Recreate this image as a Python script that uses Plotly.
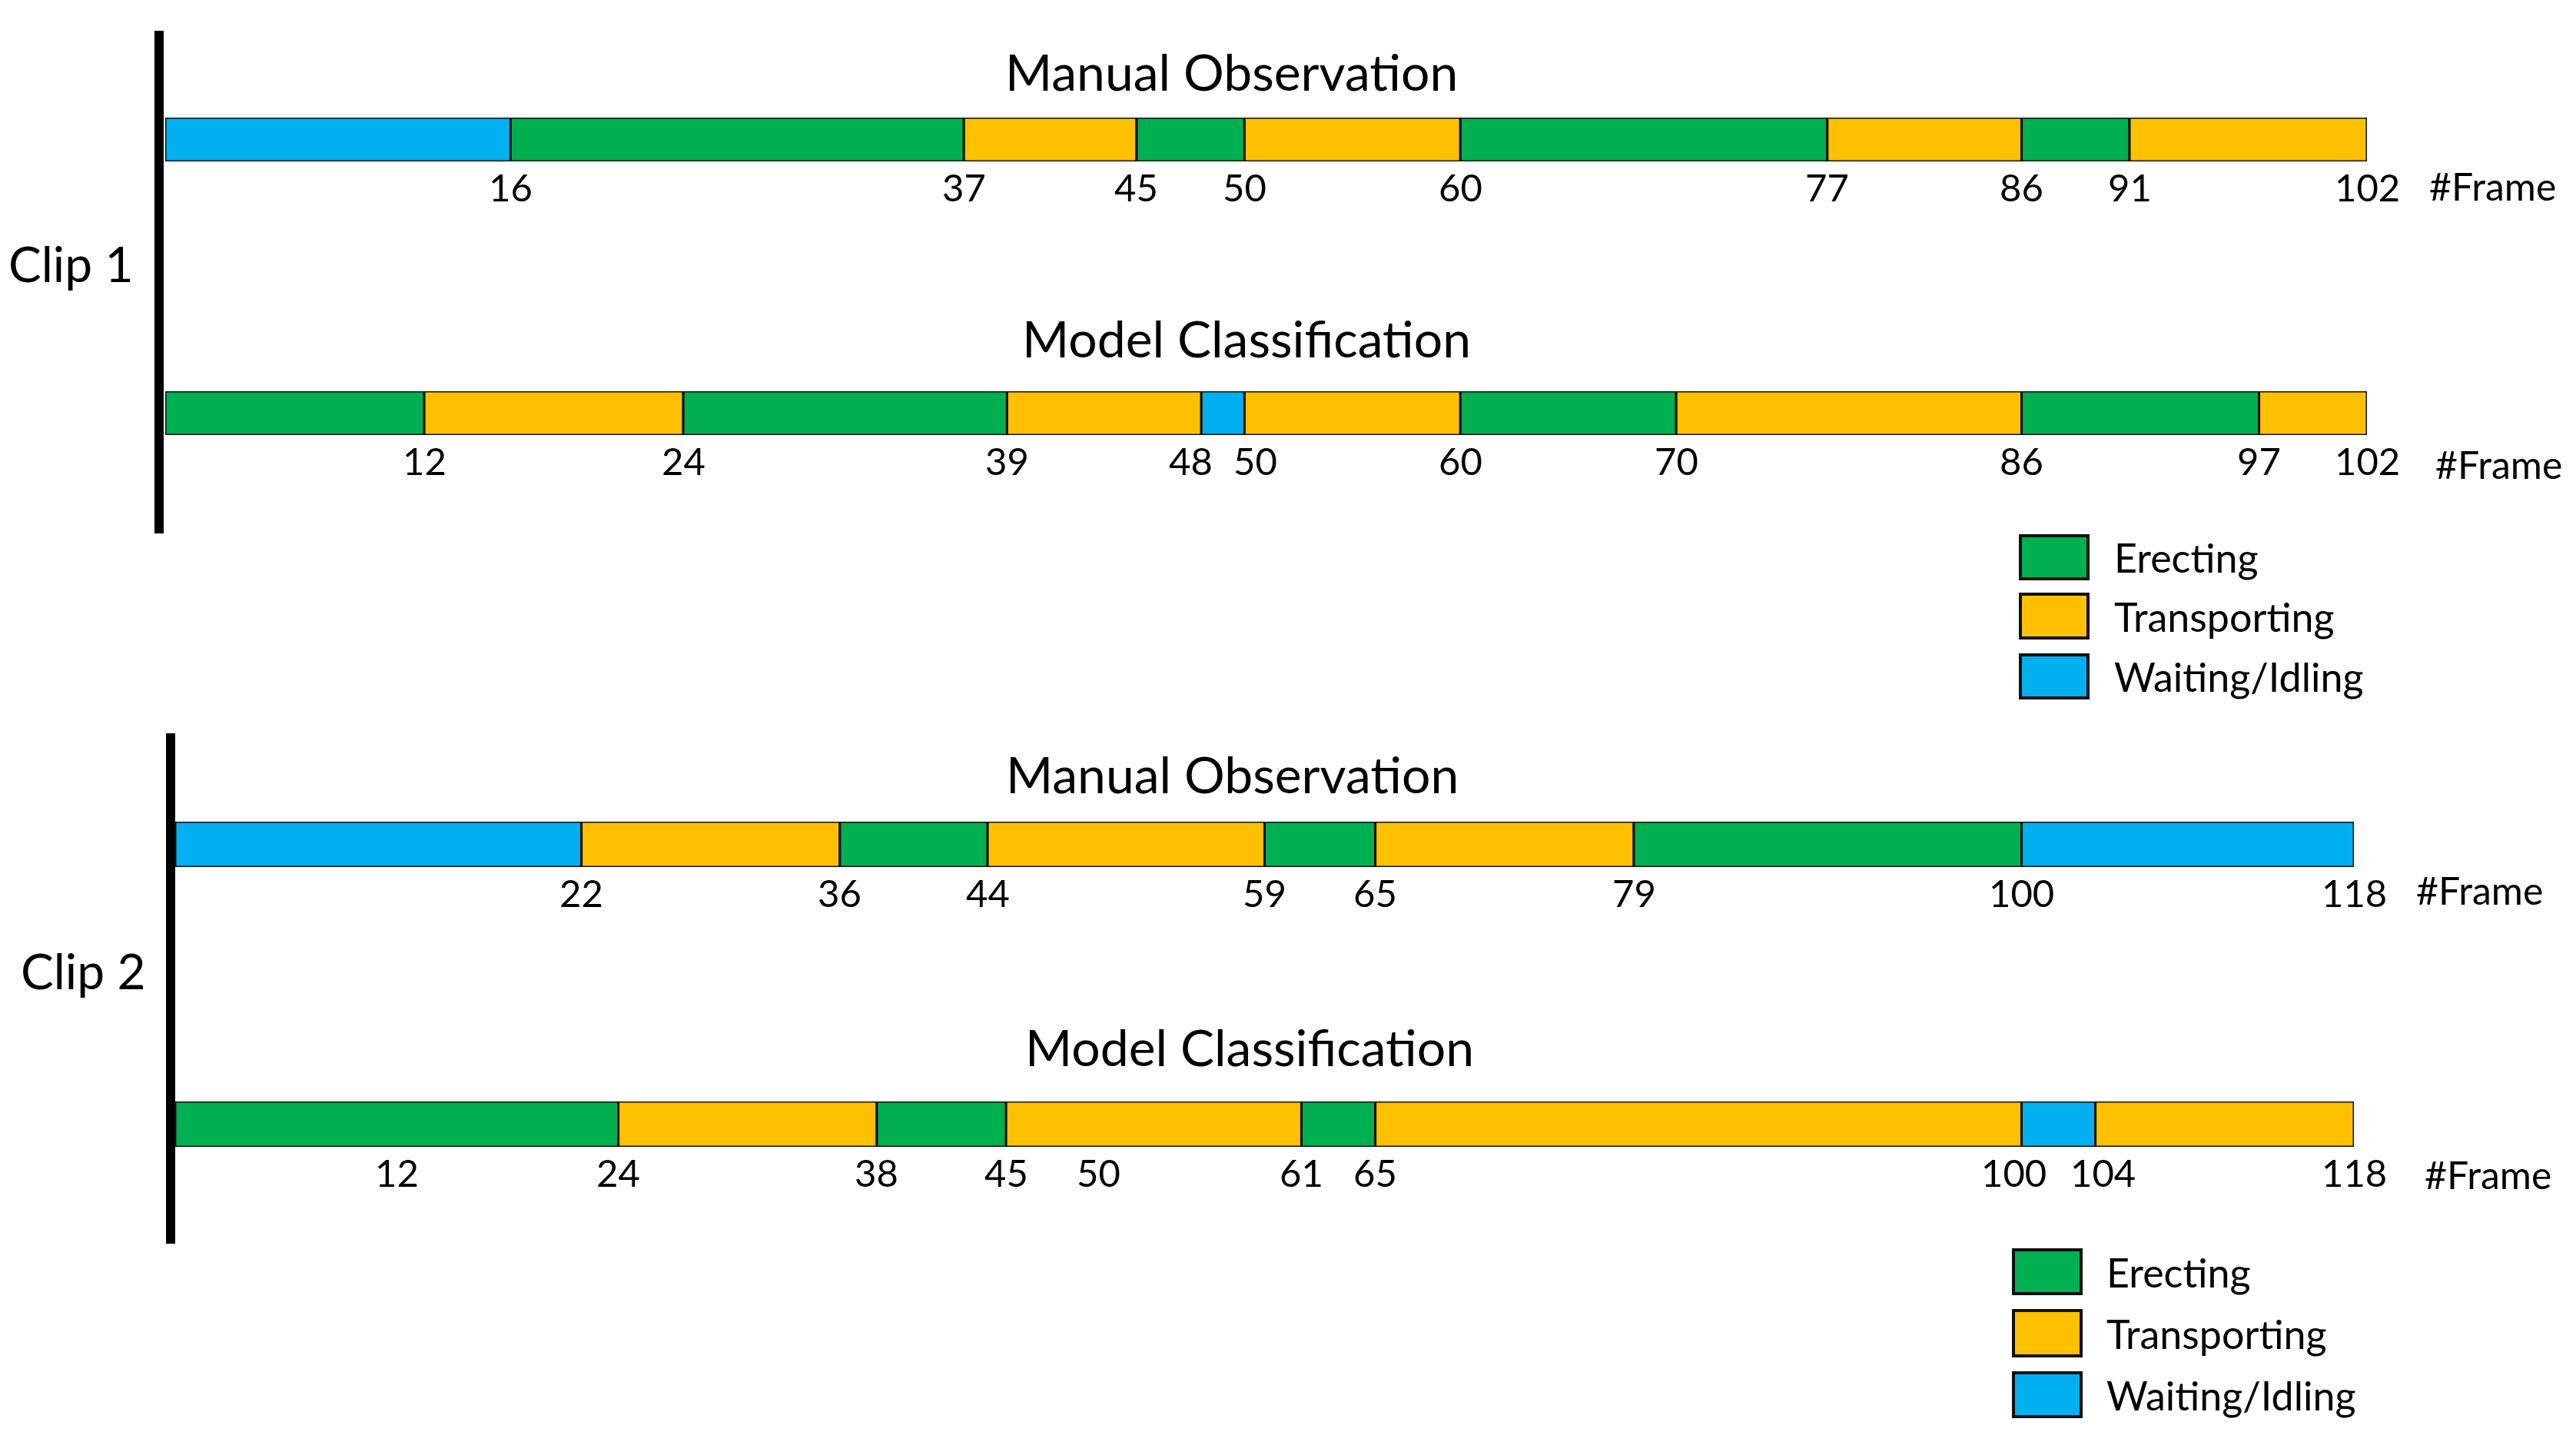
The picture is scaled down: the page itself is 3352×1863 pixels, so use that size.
import plotly.graph_objects as go

# ---------------- data ----------------
legend_labels = ["Erecting", "Transporting", "Waiting/Idling"]
state_colors = ["#00B050", "#FFC000", "#00B0F0"]
code_to_label = {"E": "Erecting", "T": "Transporting", "W": "Waiting/Idling"}

clip_names = ["Clip 1", "Clip 2"]
row_titles = ["Manual Observation", "Model Classification"]
frame_axis_title = "#Frame"

# Clip 1 - manual observation
c1_manual_bounds = [0, 16, 37, 45, 50, 60, 77, 86, 91, 102]
c1_manual_states = ["W", "E", "T", "E", "T", "E", "T", "E", "T"]
c1_manual_ticks = [16, 37, 45, 50, 60, 77, 86, 91, 102]

# Clip 1 - model classification
c1_model_bounds = [0, 12, 24, 39, 48, 50, 60, 70, 86, 97, 102]
c1_model_states = ["E", "T", "E", "T", "W", "T", "E", "T", "E", "T"]
c1_model_ticks = [12, 24, 39, 48, 50, 60, 70, 86, 97, 102]

# Clip 2 - manual observation
c2_manual_bounds = [0, 22, 36, 44, 59, 65, 79, 100, 118]
c2_manual_states = ["W", "T", "E", "T", "E", "T", "E", "W"]
c2_manual_ticks = [22, 36, 44, 59, 65, 79, 100, 118]

# Clip 2 - model classification
c2_model_bounds = [0, 24, 38, 45, 61, 65, 100, 104, 118]
c2_model_states = ["E", "T", "E", "T", "E", "T", "W", "T"]
c2_model_ticks = [12, 24, 38, 45, 50, 61, 65, 100, 104, 118]

rows = [
    (c1_manual_bounds, c1_manual_states, c1_manual_ticks),
    (c1_model_bounds, c1_model_states, c1_model_ticks),
    (c2_manual_bounds, c2_manual_states, c2_manual_ticks),
    (c2_model_bounds, c2_model_states, c2_model_ticks),
]

# ---------------- layout helpers ----------------
W, H = 3352, 1863
FONT = "Lato, 'Open Sans', sans-serif"


def px(x):
    return x / W


def py(y):
    return 1 - y / H


# pixel geometry of each bar row: (x0, x1, y_top, y_bottom)
row_geom = [
    (215, 3080, 153, 210),
    (215, 3080, 509, 566),
    (228, 3063, 1069, 1128),
    (228, 3063, 1433, 1492),
]
# small horizontal nudges (px) so that neighbouring labels do not collide
label_nudge = {(2, 48): -14, (2, 50): 14, (4, 100): -10, (4, 104): 10}

color_of = dict(zip(legend_labels, state_colors))

fig = go.Figure()
layout_axes = {}
annotations = []
for i, ((bounds, states, ticks), (gx0, gx1, gyt, gyb)) in enumerate(zip(rows, row_geom), start=1):
    starts = bounds[:-1]
    lengths = [b - a for a, b in zip(bounds[:-1], bounds[1:])]
    labels = [code_to_label[s] for s in states]
    sfx = "" if i == 1 else str(i)
    fig.add_trace(go.Bar(
        orientation="h",
        y=[0] * len(starts),
        x=lengths,
        base=starts,
        width=1,
        marker=dict(color=[color_of[l] for l in labels],
                    line=dict(color="#111111", width=3)),
        name=row_titles[(i - 1) % 2],
        text=labels,
        hovertemplate="%{text}: %{base}-%{x}<extra></extra>",
        textposition="none",
        showlegend=False,
        cliponaxis=False,
        xaxis="x" + sfx,
        yaxis="y" + sfx,
    ))
    layout_axes["xaxis" + sfx] = dict(
        domain=[px(gx0), px(gx1)],
        range=[0, bounds[-1]],
        anchor="y" + sfx,
        showgrid=False, zeroline=False, showline=False,
        ticks="", showticklabels=False,
        fixedrange=True,
    )
    layout_axes["yaxis" + sfx] = dict(
        domain=[py(gyb), py(gyt)],
        range=[-0.5, 0.5],
        anchor="x" + sfx,
        visible=False,
        fixedrange=True,
    )
    # frame labels placed on the x scale of the row
    for t in ticks:
        annotations.append(dict(
            text=str(t), x=t, xref="x" + sfx, y=0, yref="y" + sfx + " domain",
            xanchor="center", yanchor="top", yshift=-2,
            xshift=label_nudge.get((i, t), 0), showarrow=False,
            font=dict(family=FONT, size=49, color="#000000")))

shapes = []

# thick vertical separators
for (xc, yt, yb) in [(207, 40, 694), (222, 954, 1618)]:
    shapes.append(dict(type="line", xref="paper", yref="paper",
                       x0=px(xc), x1=px(xc), y0=py(yt), y1=py(yb),
                       line=dict(color="#000000", width=12)))

# clip names
for name, (xc, yc) in zip(clip_names, [(92, 342), (108, 1262)]):
    annotations.append(dict(text=name, x=px(xc), y=py(yc), xref="paper", yref="paper",
                            xanchor="center", yanchor="middle", showarrow=False,
                            font=dict(family=FONT, size=64, color="#000000")))

# row titles
for k, (xc, yc) in enumerate([(1602, 92), (1622, 440), (1603, 1007), (1626, 1361)]):
    annotations.append(dict(text=row_titles[k % 2], x=px(xc), y=py(yc), xref="paper", yref="paper",
                            xanchor="center", yanchor="middle", showarrow=False,
                            font=dict(family=FONT, size=66, color="#000000")))

# #Frame labels
for (xl, yc) in [(3159, 242), (3167, 604), (3142, 1158), (3153, 1528)]:
    annotations.append(dict(text=frame_axis_title, x=px(xl), y=py(yc), xref="paper", yref="paper",
                            xanchor="left", yanchor="middle", showarrow=False,
                            font=dict(family=FONT, size=50, color="#000000")))

# manual legends (two copies)
legend_blocks = [
    (2629, 2717, 2749, [(697, 753), (773, 830), (852, 908)]),
    (2620, 2708, 2739, [(1626, 1683), (1705, 1764), (1786, 1843)]),
]
for bx0, bx1, tx, boxes in legend_blocks:
    for lab, col, (by0, by1) in zip(legend_labels, state_colors, boxes):
        shapes.append(dict(type="rect", xref="paper", yref="paper",
                           x0=px(bx0), x1=px(bx1), y0=py(by1), y1=py(by0),
                           fillcolor=col, line=dict(color="#111111", width=4)))
        annotations.append(dict(text=lab, x=px(tx), y=py((by0 + by1) / 2),
                                xref="paper", yref="paper", xanchor="left", yanchor="middle",
                                showarrow=False,
                                font=dict(family=FONT, size=52, color="#000000")))

fig.update_layout(
    width=W, height=H,
    margin=dict(l=0, r=0, t=0, b=0),
    paper_bgcolor="#ffffff", plot_bgcolor="rgba(0,0,0,0)",
    barmode="overlay",
    showlegend=False,
    shapes=shapes,
    annotations=annotations,
    font=dict(family=FONT, color="#000000"),
    **layout_axes,
)

fig.write_html(
    "out.html",
    config={"displayModeBar": False},
    post_script="document.body.style.margin='0';document.body.style.overflow='hidden';",
)
